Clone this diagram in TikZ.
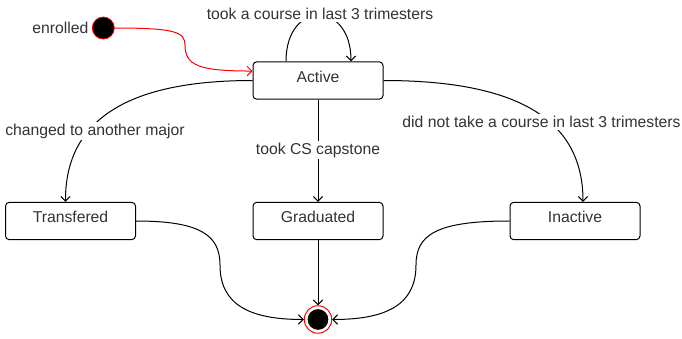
\documentclass[tikz,border=0pt]{standalone}
\usepackage{fontspec}
\setmainfont{Liberation Sans}
\usetikzlibrary{arrows.meta}
\tikzset{
  state/.style={draw, line width=0.75pt, rounded corners=2.8pt, minimum width=97.5pt,
    minimum height=28pt, inner sep=0pt, text height=8.5pt, text depth=6pt, text=black!80},
  lbl/.style={fill=white, inner sep=1.5pt, text=black!80},
  conn/.style={draw, line width=0.75pt, -{Straight Barb[length=3.5pt,width=7pt]}},
}
\begin{document}
\begin{tikzpicture}[x=0.75pt, y=-0.75pt, font=\fontsize{11.8pt}{14pt}\selectfont]
\useasboundingbox (0,0) rectangle (682,339);

% states
\node[state] (act)   at (318,80.5) {Active};
\node[state] (trans) at (70.5,221) {Transfered};
\node[state] (grad)  at (318,221)  {Graduated};
\node[state] (inact) at (575,221)  {Inactive};

% initial pseudo-state
\node[circle, draw=red, fill=black, minimum size=16.5pt, inner sep=0pt, line width=0.6pt] (init) at (103.3,28) {};
\node[anchor=east, text=black!80, inner sep=1pt] (enr) at (90,28) {enrolled};

% final state
\node[circle, draw=red, fill=white, minimum size=20.6pt, inner sep=0pt, line width=0.75pt] (fin) at (318,319.5) {};
\node[circle, fill=black, minimum size=15.5pt, inner sep=0pt] (fincore) at (fin.center) {};

% transitions
\draw[conn, red] (init.east) .. controls (175,28) and (185,32) .. (185,45)
  .. controls (185,66) and (200,71) .. ([yshift=7.1pt]act.west);
\draw[conn] ([xshift=-24pt]act.north) .. controls (286,0) and (351,0) .. ([xshift=24.75pt]act.north);
\draw[conn] (act.west) .. controls (148,80.5) and (65,108) .. ([xshift=-3.75pt]trans.north);
\draw[conn] (act.east) .. controls (515,80.5) and (583,118) .. ([xshift=6pt]inact.north);
\draw[conn] (act.south) -- (grad.north);
\draw[conn] (trans.east) .. controls (200,221) and (220,235) .. (220,265)
  .. controls (220,305) and (250,319.5) .. (fin.west);
\draw[conn] (inact.west) .. controls (436,221) and (416,235) .. (416,265)
  .. controls (416,305) and (386,319.5) .. (fin.east);
\draw[conn] (grad.south) -- (fin.north);

% transition labels
\node[lbl] (lloop) at (320,14)    {took a course in last 3 trimesters};
\node[lbl] (lchg)  at (95,131)    {changed to another major};
\node[lbl] (lcap)  at (318,150)   {took CS capstone};
\node[lbl] (lina)  at (541.5,122) {did not take a course in last 3 trimesters};
\end{tikzpicture}
\end{document}
